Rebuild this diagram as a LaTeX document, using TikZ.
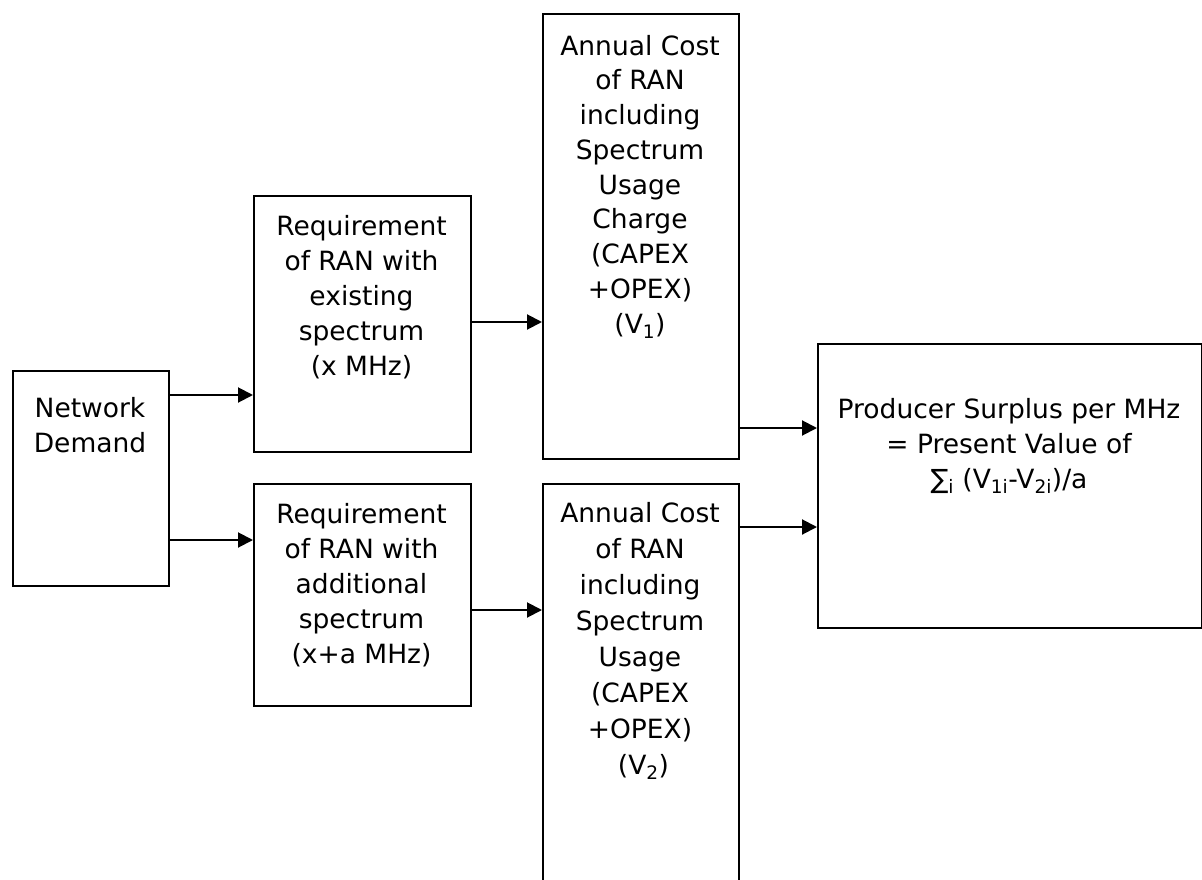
\documentclass[tikz,border=0pt]{standalone}
\usepackage{fontspec}
\setmainfont{DejaVu Sans}
\usetikzlibrary{arrows.meta}
\begin{document}
\begin{tikzpicture}[x=1pt,y=-1pt,
  box/.style={draw=black, line width=2pt, inner sep=0pt, anchor=north west},
  lbl/.style={font=\fontsize{26.5}{35}\selectfont, align=center, inner sep=0pt, anchor=north},
  arr/.style={line width=2pt, -{Triangle[length=15pt,width=15pt]}}]
\clip (0,0) rectangle (1202,880);
% boxes
\node[box, minimum width=156pt, minimum height=215pt] (nd) at (12,370) {};
\node[box, minimum width=217pt, minimum height=256pt] (reqa) at (253,195) {};
\node[box, minimum width=217pt, minimum height=222pt] (reqb) at (253,483) {};
\node[box, minimum width=196pt, minimum height=445pt] (costa) at (542,13) {};
\node[box, minimum width=196pt, minimum height=420pt] (costb) at (542,483) {};
\node[box, minimum width=384pt, minimum height=284pt] (ps) at (817,343) {};
% labels
\node[lbl] (ndt) at (90,396) {\rule{0pt}{21pt}Network\\Demand};
\node[lbl] (reqat) at (361.5,214) {\rule{0pt}{21pt}Requirement\\of RAN with\\existing\\spectrum\\(x MHz)};
\node[lbl] (reqbt) at (361.5,502) {\rule{0pt}{21pt}Requirement\\of RAN with\\additional\\spectrum\\(x+a MHz)};
\node[lbl, font=\fontsize{26.5}{34.75}\selectfont] (costat) at (640,34) {\rule{0pt}{21pt}Annual Cost\\of RAN\\including\\Spectrum\\Usage\\Charge\\(CAPEX\\+OPEX)\\(V\textsubscript{1})};
\node[lbl, font=\fontsize{26.5}{36}\selectfont] (costbt) at (640,501) {\rule{0pt}{21pt}Annual Cost\\of RAN\\including\\Spectrum\\Usage\\(CAPEX\\+OPEX)\\\hspace*{7pt}(V\textsubscript{2})};
\node[lbl] (pst) at (1009,397) {\rule{0pt}{21pt}Producer Surplus per MHz\\= Present Value of\\∑\textsubscript{i} (V\textsubscript{1i}-V\textsubscript{2i})/a};
% connectors
\draw[arr] (nd.east |- 0,395) -- (reqa.west |- 0,395);
\draw[arr] (nd.east |- 0,540) -- (reqb.west |- 0,540);
\draw[arr] (reqa.east |- 0,322) -- (costa.west |- 0,322);
\draw[arr] (reqb.east |- 0,610) -- (costb.west |- 0,610);
\draw[arr] (costa.east |- 0,428) -- (ps.west |- 0,428);
\draw[arr] (costb.east |- 0,527) -- (ps.west |- 0,527);
\end{tikzpicture}
\end{document}
